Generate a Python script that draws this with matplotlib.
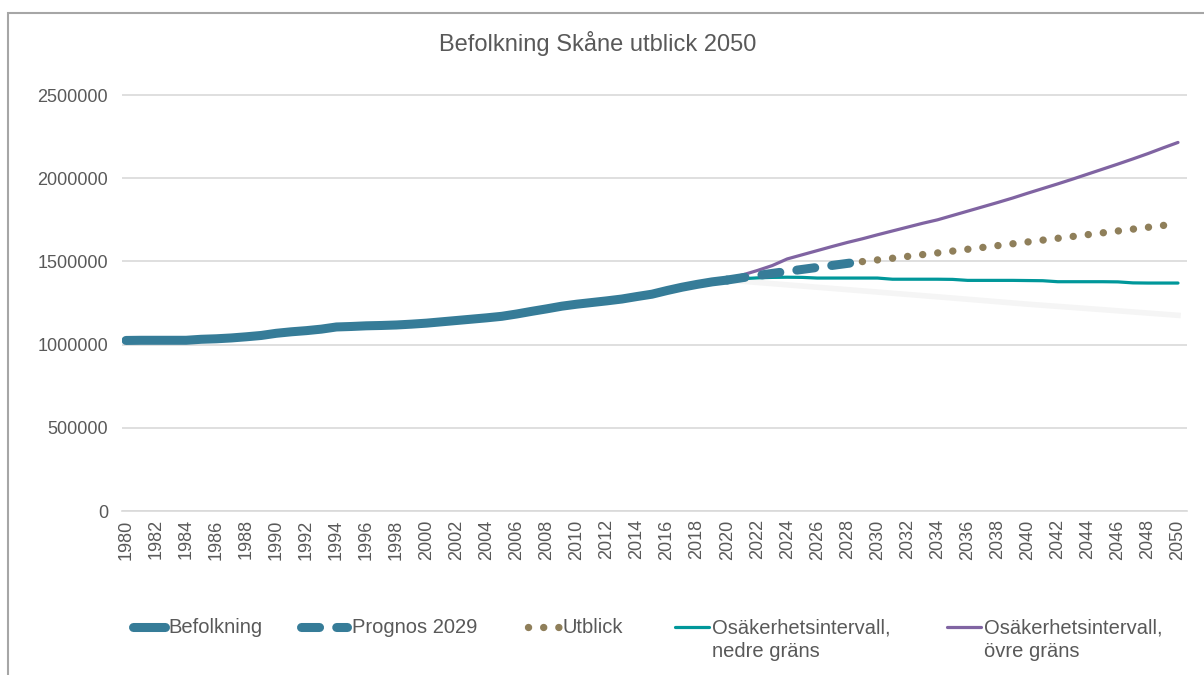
import matplotlib
matplotlib.use("Agg")
import matplotlib.pyplot as plt
from matplotlib.lines import Line2D
from matplotlib.patches import Rectangle
from matplotlib.ticker import FuncFormatter

plt.rcParams["font.family"] = ["Liberation Sans", "DejaVu Sans"]

# --- data ---
years_hist = list(range(1980, 2021))
befolkning = [
    1025000, 1026000, 1026000, 1026000, 1026000, 1032000, 1035000, 1040000, 1047000, 1055000,
    1068000, 1077000, 1084000, 1093000, 1106000, 1109000, 1113000, 1115000, 1118000, 1123000,
    1129000, 1137000, 1145000, 1153000, 1161000, 1170000, 1184000, 1200000, 1215000, 1231000,
    1243000, 1253000, 1263000, 1274000, 1289000, 1303000, 1325000, 1345000, 1362000, 1377000,
    1388000,
]

years_prognos = list(range(2020, 2030))
prognos = [1388000, 1402000, 1415000, 1428000, 1440000, 1452000, 1464000, 1476000, 1488000, 1499000]

years_utblick = list(range(2029, 2051))
utblick = [
    1499000, 1509000, 1519000, 1530000, 1541000, 1551000, 1562000, 1573000, 1584000, 1595000,
    1606000, 1617000, 1628000, 1639000, 1650000, 1661000, 1672000, 1683000, 1694000, 1705000,
    1716000, 1727000,
]

years_int = list(range(2019, 2051))
nedre = [
    1377000, 1388000, 1396000, 1401000, 1404000, 1405000, 1404000, 1400000, 1400000, 1400000,
    1400000, 1400000, 1393000, 1393000, 1393000, 1393000, 1392000, 1386000, 1386000, 1386000,
    1386000, 1385000, 1384000, 1378000, 1378000, 1378000, 1378000, 1377000, 1371000, 1370000,
    1370000, 1370000,
]
ovre = [
    1377000, 1393000, 1418000, 1445000, 1475000, 1515000, 1540000, 1565000, 1590000, 1614000,
    1636000, 1660000, 1683000, 1706000, 1729000, 1750000, 1776000, 1802000, 1828000, 1854000,
    1881000, 1910000, 1938000, 1966000, 1995000, 2025000, 2055000, 2085000, 2116000, 2148000,
    2182000, 2215000,
]

# faint grey trace visible behind the lines
years_ghost = list(range(2020, 2051, 5))
ghost = [1388000, 1352000, 1316000, 1280000, 1243000, 1210000, 1176000]

x_ticks = list(range(1980, 2051, 2))
y_ticks = [0, 500000, 1000000, 1500000, 2000000, 2500000]

labels = ["Befolkning", "Prognos 2029", "Utblick",
          "Osäkerhetsintervall,\nnedre gräns", "Osäkerhetsintervall,\növre gräns"]

# --- styles ---
text_col = "#595959"
grid_col = "#D9D9D9"
styles = [
    dict(color="#367C98", lw=6.5, solid_capstyle="round"),
    dict(color="#367C98", lw=6.5, linestyle=(0, (2.0, 1.9)), dash_capstyle="round"),
    dict(color="#8F7F5A", lw=5.3, linestyle=(0, (0.01, 2.05)), dash_capstyle="round"),
    dict(color="#00979A", lw=2.3, solid_capstyle="round"),
    dict(color="#8064A2", lw=2.3, solid_capstyle="round"),
]

W, H = 1204, 675
fig = plt.figure(figsize=(W / 100, H / 100), dpi=100)
ax = fig.add_axes([122 / W, 1 - 511 / H, (1187 - 122) / W, (511 - 91.7) / H])

ax.plot(years_ghost, ghost, color="#F5F5F5", lw=4, zorder=1)
ax.plot(years_int, nedre, zorder=3, **styles[3])
ax.plot(years_int, ovre, zorder=3, **styles[4])
ax.plot(years_utblick, utblick, zorder=4, **styles[2])
ax.plot(years_prognos, prognos, zorder=4, **styles[1])
ax.plot(years_hist, befolkning, zorder=5, **styles[0])

ax.set_xlim(1979.734, 2050.6)
ax.set_ylim(0, 2520000)
ax.set_xticks(x_ticks)
ax.set_xticklabels([str(y) for y in x_ticks], rotation=90)
ax.set_yticks(y_ticks)
ax.yaxis.set_major_formatter(FuncFormatter(lambda v, p: f"{int(v)}"))
ax.tick_params(axis="both", length=0, colors=text_col, labelsize=13)
ax.tick_params(axis="y", pad=10)
ax.tick_params(axis="x", pad=6)
ax.grid(axis="y", color=grid_col, lw=1.2)
ax.set_axisbelow(True)
for s in ["top", "right", "left"]:
    ax.spines[s].set_visible(False)
ax.spines["bottom"].set_color(grid_col)
ax.spines["bottom"].set_linewidth(1.2)

fig.text(598 / W, 1 - 44 / H, "Befolkning Skåne utblick 2050", ha="center", va="center",
         fontsize=17, color=text_col)

# legend below the plot, laid out like the original
handle_span = [(133, 165), (301, 347), (528, 559), (675, 709), (947, 981)]
text_x = [168, 352, 563, 712, 984]
for (h0, h1), tx, lab, st in zip(handle_span, text_x, labels, styles):
    yl = 1 - 627 / H
    fig.add_artist(Line2D([h0 / W, h1 / W], [yl, yl], transform=fig.transFigure, **st))
    fig.text(tx / W, 1 - 618 / H, lab, ha="left", va="top", fontsize=14.5,
             color=text_col, linespacing=1.33)

# outer frame
fig.add_artist(Rectangle((8 / W, -0.1), 1.2, 1.1 - 13 / H, transform=fig.transFigure,
                         fill=False, edgecolor="#A6A6A6", lw=1.5))

fig.savefig("out.png", dpi=100)
